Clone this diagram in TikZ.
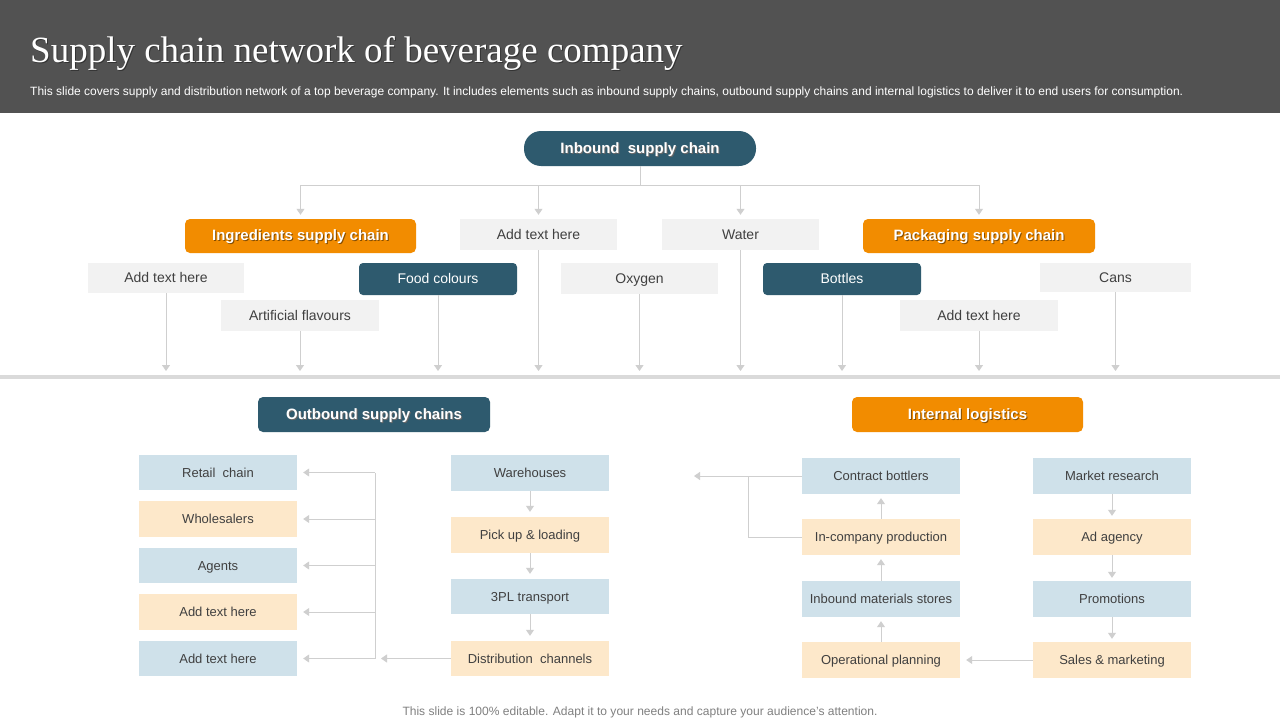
\documentclass[tikz,border=0pt]{standalone}
\usepackage{fontspec}
\setmainfont{Liberation Sans}
\newfontfamily\titlefont{Liberation Serif}
\usetikzlibrary{arrows.meta}
\definecolor{hdr}{HTML}{525252}
\definecolor{teal}{HTML}{2E5A6E}
\definecolor{orng}{HTML}{F28C00}
\definecolor{gbg}{HTML}{F2F2F2}
\definecolor{lblue}{HTML}{CFE1EA}
\definecolor{peach}{HTML}{FDE8CA}
\definecolor{txt}{HTML}{404040}
\definecolor{lnc}{HTML}{CFCFCF}
\definecolor{sep}{HTML}{DADADA}
\newcommand\shd[2]{\leavevmode\rlap{\kern1pt\raisebox{-1pt}{\textcolor{#1}{#2}}}#2}
\begin{document}
\begin{tikzpicture}[x=1pt,y=-1pt,
  conn/.style={draw=lnc,line width=1pt},
  arr/.style={conn,-{Triangle[width=8pt,length=6pt]}},
  ctext/.style={text height=0.92em,text depth=0em},
  bold/.style={ctext,text=white,inner sep=0pt,font=\bfseries\fontsize{15}{18}\selectfont},
  pill/.style={bold,fill=teal,rounded corners=17pt,minimum width=232pt,minimum height=35pt},
  tealhd/.style={bold,fill=teal,rounded corners=5pt,minimum width=232pt,minimum height=35pt},
  orghd/.style={bold,fill=orng,rounded corners=5pt,minimum width=231pt,minimum height=34pt},
  gbox/.style={ctext,fill=gbg,text=txt,inner sep=0pt,minimum width=157pt,minimum height=31pt,font=\fontsize{14}{16}\selectfont},
  tbox/.style={ctext,fill=teal,text=white,rounded corners=4pt,inner sep=0pt,minimum width=158pt,minimum height=32pt,font=\fontsize{14}{16}\selectfont},
  bbox/.style={ctext,fill=lblue,text=txt,inner sep=0pt,minimum width=158pt,minimum height=36pt,font=\fontsize{13}{15}\selectfont},
  pbox/.style={bbox,fill=peach}]
\useasboundingbox (0,0) rectangle (1280,720);
\fill[white] (0,0) rectangle (1280,720);
\fill[hdr] (0,0) rectangle (1280,113);
\node[anchor=base west,inner sep=0pt,text=white,font=\titlefont\fontsize{37}{42}\selectfont] (title) at (30,62) {\shd{black!80}{Supply chain network of beverage company}};
\node[anchor=base west,inner sep=0pt,text=white] (sub) at (30,95) {\resizebox{1153pt}{!}{\fontsize{11}{13}\selectfont This slide covers supply and distribution network of a top beverage company. It includes elements such as inbound supply chains, outbound supply chains and internal logistics to deliver it to end users for consumption.}};
% separator
\draw[sep,line width=4pt] (0,377) -- (1280,377);
% inbound
\node[pill] (inb) at (640,148.5) {\shd{black!60}{Inbound\ \ supply chain}};
\node[orghd] (ing) at (300.5,236) {\shd{orng!55!black}{Ingredients supply chain}};
\node[gbox] (at1) at (538.5,234.5) {Add text here};
\node[gbox] (wat) at (740.5,234.5) {Water};
\node[orghd,minimum width=232pt] (pack) at (979,236) {\shd{orng!55!black}{Packaging supply chain}};
\node[gbox,minimum width=156pt,minimum height=30pt] (at2) at (166,278) {Add text here};
\node[tbox] (food) at (438,279) {Food colours};
\node[gbox] (oxy) at (639.5,278.5) {Oxygen};
\node[tbox] (bot) at (842,279) {Bottles};
\node[gbox,minimum width=151pt,minimum height=29pt] (cans) at (1115.5,277.5) {Cans};
\node[gbox,minimum width=158pt] (art) at (300,315.5) {Artificial flavours};
\node[gbox,minimum width=158pt] (at3) at (979,315.5) {Add text here};
\coordinate (tj) at (640,185);
\coordinate (bl) at (0,371);
\draw[conn] (inb.south) -- (tj);
\draw[conn] (ing.north |- tj) -- (pack.north |- tj);
\foreach \n in {ing,at1,wat,pack} \draw[arr,shorten >=4pt] (\n.north |- tj) -- (\n.north);
\foreach \n in {at2,art,food,at1,oxy,wat,bot,at3,cans} \draw[arr] (\n.south) -- (\n.south |- bl);
% outbound
\node[tealhd] (outb) at (374,414.5) {\shd{black!60}{Outbound supply chains}};
\node[orghd,minimum height=35pt] (intl) at (967.5,414.5) {\shd{orng!55!black}{Internal logistics}};
\node[bbox,minimum height=35pt] (ret) at (218,472.5) {Retail\ \ chain};
\node[pbox] (who) at (218,519) {Wholesalers};
\node[bbox,minimum height=35pt] (agt) at (218,565.5) {Agents};
\node[pbox] (at4) at (218,612) {Add text here};
\node[bbox,minimum height=35pt] (at5) at (218,658.5) {Add text here};
\node[bbox] (ware) at (530,473) {Warehouses};
\node[pbox] (pick) at (530,535) {Pick up \& loading};
\node[bbox,minimum height=35pt] (tpl) at (530,596.5) {3PL transport};
\node[pbox,minimum height=35pt] (dist) at (530,658.5) {Distribution\ \ channels};
\coordinate (bus) at (375,473);
\draw[arr,shorten >=6pt] (dist.west) -- (dist.west -| bus);
\draw[conn] (bus) -- (bus |- dist.west);
\foreach \n in {ret,who,agt,at4,at5} \draw[arr,shorten >=6pt] (bus |- \n.east) -- (\n.east);
\draw[arr,shorten >=5pt] (ware.south) -- (pick.north);
\draw[arr,shorten >=5pt] (pick.south) -- (tpl.north);
\draw[arr,shorten >=5pt] (tpl.south) -- (dist.north);
% internal logistics
\node[bbox] (cb) at (881,476) {Contract bottlers};
\node[pbox] (icp) at (881,537) {In-company production};
\node[bbox] (ims) at (881,599) {Inbound materials stores};
\node[pbox] (op) at (881,660) {Operational planning};
\node[bbox] (mr) at (1112,476) {Market research};
\node[pbox] (ad) at (1112,537) {Ad agency};
\node[bbox] (pr) at (1112,599) {Promotions};
\node[pbox] (sm) at (1112,660) {Sales \& marketing};
\draw[arr,shorten >=4pt] (icp.north) -- (cb.south);
\draw[arr,shorten >=4pt] (ims.north) -- (icp.south);
\draw[arr,shorten >=4pt] (op.north) -- (ims.south);
\draw[arr,shorten >=3pt] (mr.south) -- (ad.north);
\draw[arr,shorten >=3pt] (ad.south) -- (pr.north);
\draw[arr,shorten >=3pt] (pr.south) -- (sm.north);
\draw[arr,shorten >=6pt] (sm.west) -- (op.east);
\coordinate (ilt) at (694,476);
\coordinate (jn) at (748,476);
\draw[arr] (cb.west) -- (ilt);
\draw[conn] (icp.west) -| (jn);
% footer
\node[anchor=base,inner sep=0pt,text=black!50] (foot) at (640,715) {\resizebox{475pt}{!}{\fontsize{12}{14}\selectfont This slide is 100\% editable. Adapt it to your needs and capture your audience’s attention.}};
\end{tikzpicture}
\end{document}
